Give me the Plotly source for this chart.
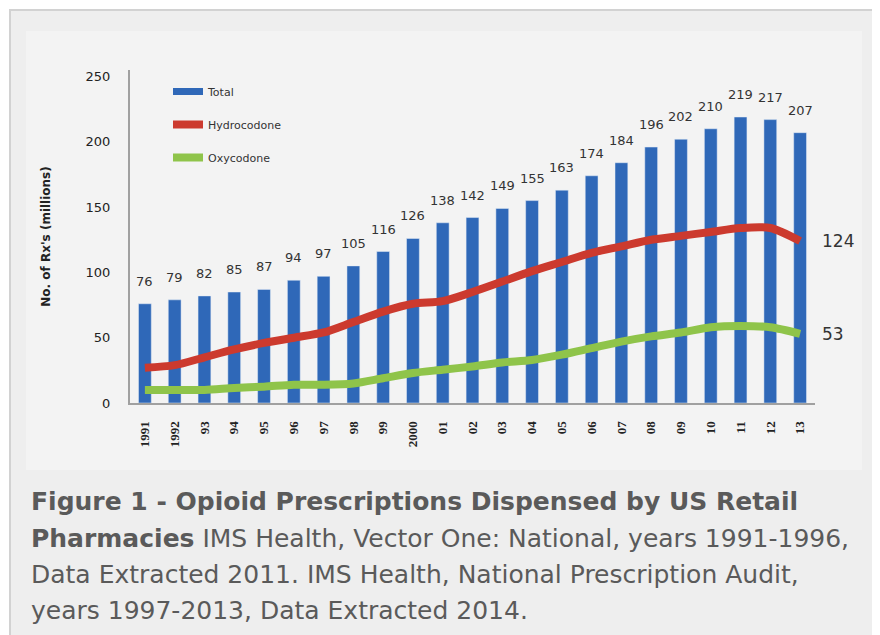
import plotly.graph_objects as go

years = ["1991", "1992", "93", "94", "95", "96", "97", "98", "99", "2000",
         "01", "02", "03", "04", "05", "06", "07", "08", "09", "10", "11", "12", "13"]
total = [76, 79, 82, 85, 87, 94, 97, 105, 116, 126, 138, 142, 149, 155, 163,
         174, 184, 196, 202, 210, 219, 217, 207]
hydrocodone = [27, 29, 35, 41, 46, 50, 54, 62, 70, 76, 78, 85, 93, 101, 108,
               115, 120, 125, 128, 131, 134, 134, 124]
oxycodone = [10, 10, 10, 11.5, 12.5, 14, 14, 15, 19, 23, 25.5, 28, 31, 33, 37,
             42, 47, 51, 54, 58, 59, 58, 53]

caption_lines = [
    "<b>Figure 1 - Opioid Prescriptions Dispensed by US Retail</b>",
    "<b>Pharmacies</b> IMS Health, Vector One: National, years 1991-1996,",
    "Data Extracted 2011. IMS Health, National Prescription Audit,",
    "years 1997-2013, Data Extracted 2014.",
]

OFF = 8  # page body margin
W, H = 880, 635
L, R, T, B = 130 - OFF, 65 + OFF, 70 - OFF, 232 + OFF
PW, PH = W - L - R, H - T - B


def px_x(px):
    return (px - OFF - L) / PW


def px_y(py):
    return (H - B - (py - OFF)) / PH


BLUE = "#2f68b8"
RED = "#cc3a2e"
GREEN = "#8fc44a"

fig = go.Figure()
fig.add_trace(go.Bar(x=years, y=total, marker_color=BLUE, width=0.43,
                     showlegend=False, hoverinfo="skip"))
fig.add_trace(go.Scatter(x=[None], y=[None], mode="lines", name="Total",
                         line=dict(color=BLUE, width=7), legendgroup="t"))
fig.add_trace(go.Scatter(x=years, y=hydrocodone, mode="lines", name="Hydrocodone",
                         line=dict(color=RED, width=8, shape="spline", smoothing=0.8),
                         legendgroup="h"))
fig.add_trace(go.Scatter(x=years, y=oxycodone, mode="lines", name="Oxycodone",
                         line=dict(color=GREEN, width=8, shape="spline", smoothing=0.8),
                         legendgroup="o"))

annotations = []
for i, v in enumerate(total):
    annotations.append(dict(x=i, y=v, xref="x", yref="y", text=str(v),
                            showarrow=False, yanchor="bottom", yshift=13,
                            font=dict(family="DejaVu Sans", size=13, color="#333333")))
for series in (hydrocodone, oxycodone):
    annotations.append(dict(x=len(years) - 1, y=series[-1], xref="x", yref="y",
                            text=str(series[-1]), showarrow=False, xanchor="left",
                            xshift=20, font=dict(family="DejaVu Sans", size=17, color="#333333")))

line_y = [501, 538, 574, 610]
for txt, py in zip(caption_lines, line_y):
    annotations.append(dict(x=px_x(29), y=px_y(py), xref="paper", yref="paper",
                            text=txt, showarrow=False, xanchor="left", yanchor="middle",
                            font=dict(family="DejaVu Sans", size=25, color="#5a5a5a")))

shapes = [
    dict(type="rect", xref="paper", yref="paper", x0=px_x(10), x1=px_x(900),
         y0=px_y(660), y1=px_y(10), fillcolor="#eeeeee",
         line=dict(color="#d2d2d2", width=2), layer="below"),
    dict(type="rect", xref="paper", yref="paper", x0=px_x(26), x1=px_x(862),
         y0=px_y(470), y1=px_y(31), fillcolor="#f3f3f3",
         line=dict(width=0), layer="below"),
]

fig.update_layout(
    width=W, height=H,
    margin=dict(l=L, r=R, t=T, b=B),
    paper_bgcolor="white",
    plot_bgcolor="rgba(0,0,0,0)",
    annotations=annotations,
    shapes=shapes,
    legend=dict(x=px_x(168), y=px_y(77), xanchor="left", yanchor="top",
                bgcolor="rgba(0,0,0,0)", tracegroupgap=14, traceorder="grouped",
                font=dict(family="DejaVu Sans", size=11, color="#333333")),
    xaxis=dict(type="category", range=[-0.5, 22.5], showline=True,
               linecolor="#a0a0a0", linewidth=2, showgrid=False, ticks="",
               tickangle=-90, ticklabelstandoff=11,
               tickfont=dict(family="Liberation Serif", size=13, color="#222222",
                             weight="bold")),
    yaxis=dict(range=[0, 255], tickvals=[0, 50, 100, 150, 200, 250],
               showline=True, linecolor="#a0a0a0", linewidth=2, showgrid=False,
               zeroline=False, ticks="", ticklabelstandoff=15,
               tickfont=dict(family="DejaVu Sans", size=13, color="#222222"),
               title=dict(text="<b>No. of Rx's (millions)</b>", standoff=32,
                          font=dict(family="DejaVu Sans", size=12, color="#222222"))),
)

fig.write_html("out.html")
